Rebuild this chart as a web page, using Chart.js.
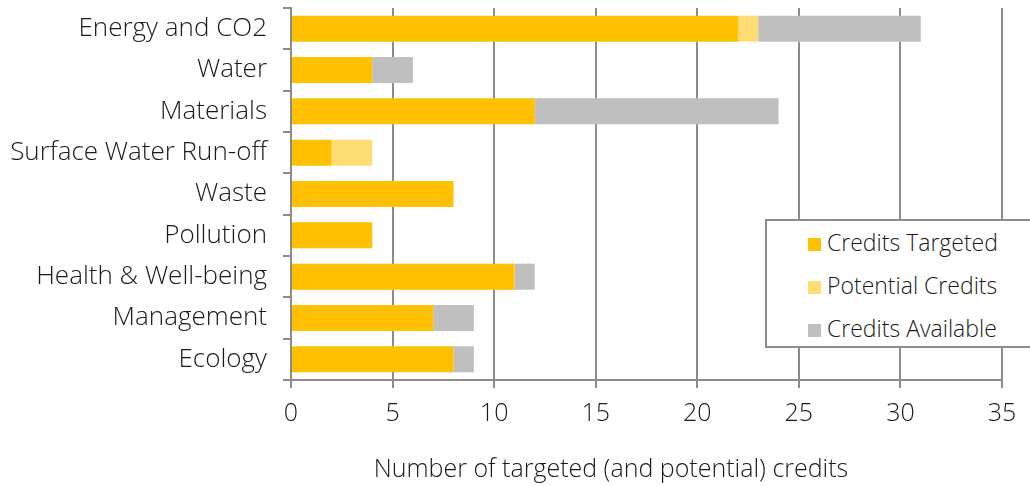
<!DOCTYPE html>
<html>
<head>
<meta charset="utf-8">
<script src="https://cdn.jsdelivr.net/npm/chart.js@4"></script>
<style>
  html, body { margin: 0; padding: 0; background: #fff; }
  #wrap { position: relative; width: 1030px; height: 486px; }
  #legend {
    position: absolute; left: 765px; top: 219px; width: 270px; height: 129px;
    border: 2px solid #8c8c8c; background: #fff; box-sizing: border-box;
    font-family: "Open Sans", "Liberation Sans", sans-serif; font-weight: 300;
    font-size: 23px; color: #1a1a1a;
  }
  .item { position: absolute; left: 41px; height: 26px; line-height: 26px; white-space: nowrap; }
  .item span { display: inline-block; width: 13px; height: 13px; margin-right: 6px; vertical-align: 0px; }
  #xtitle {
    position: absolute; left: 311px; width: 600px; top: 452px; text-align: center;
    font-family: "Open Sans", "Liberation Sans", sans-serif; font-weight: 300;
    font-size: 25px; line-height: 30px; color: #1a1a1a; white-space: nowrap;
  }
</style>
</head>
<body>
<div id="wrap">
  <canvas id="chart" width="1030" height="486"></canvas>
  <div id="legend"></div>
  <div id="xtitle">Number of targeted (and potential) credits</div>
</div>
<script>
const categories = ["Energy and CO2", "Water", "Materials", "Surface Water Run-off", "Waste",
  "Pollution", "Health & Well-being", "Management", "Ecology"];
const creditsTargeted = [22, 4, 12, 2, 8, 4, 11, 7, 8];
const potentialCredits = [1, 0, 0, 2, 0, 0, 0, 0, 0];
const creditsAvailable = [8, 2, 12, 0, 0, 0, 1, 2, 1];
const xTicks = [0, 5, 10, 15, 20, 25, 30, 35];

const seriesNames = ["Credits Targeted", "Potential Credits", "Credits Available"];
const colors = ["#FFC000", "#FFDD75", "#BFBFBF"];
const font = "\"Open Sans\", \"Liberation Sans\", sans-serif";

const ctx = document.getElementById("chart").getContext("2d");
new Chart(ctx, {
  type: "bar",
  data: {
    labels: categories,
    datasets: [creditsTargeted, potentialCredits, creditsAvailable].map((d, i) => ({
      label: seriesNames[i],
      data: d,
      backgroundColor: colors[i],
      barPercentage: 0.63,
      categoryPercentage: 1
    }))
  },
  options: {
    indexAxis: "y",
    responsive: false,
    animation: false,
    layout: { padding: { top: 8, right: 28, left: 0, bottom: 0 } },
    plugins: { legend: { display: false }, tooltip: { enabled: false } },
    scales: {
      x: {
        stacked: true,
        min: 0, max: 35,
        afterBuildTicks: s => { s.ticks = xTicks.map(v => ({ value: v })); },
        grid: { color: "#8c8c8c", lineWidth: 2, tickLength: 8 },
        border: { color: "#8c8c8c", width: 2 },
        ticks: { color: "#1a1a1a", font: { family: font, size: 25, weight: 300 }, padding: 11 },
        afterFit: s => { s.height = 106; s.paddingLeft = 0; s.paddingRight = 0; }
      },
      y: {
        stacked: true,
        grid: { drawOnChartArea: false, color: "#8c8c8c", lineWidth: 2, tickLength: 8 },
        border: { color: "#8c8c8c", width: 2 },
        ticks: { color: "#1a1a1a", font: { family: font, size: 26, weight: 300 }, padding: 16 },
        afterFit: s => { s.width = 291; s.paddingTop = 0; s.paddingBottom = 0; }
      }
    }
  }
});

const legend = document.getElementById("legend");
seriesNames.forEach((n, i) => {
  const d = document.createElement("div");
  d.className = "item";
  d.style.top = (8 + i * 43) + "px";
  d.innerHTML = `<span style="background:${colors[i]}"></span>${n}`;
  legend.appendChild(d);
});
</script>
</body>
</html>
